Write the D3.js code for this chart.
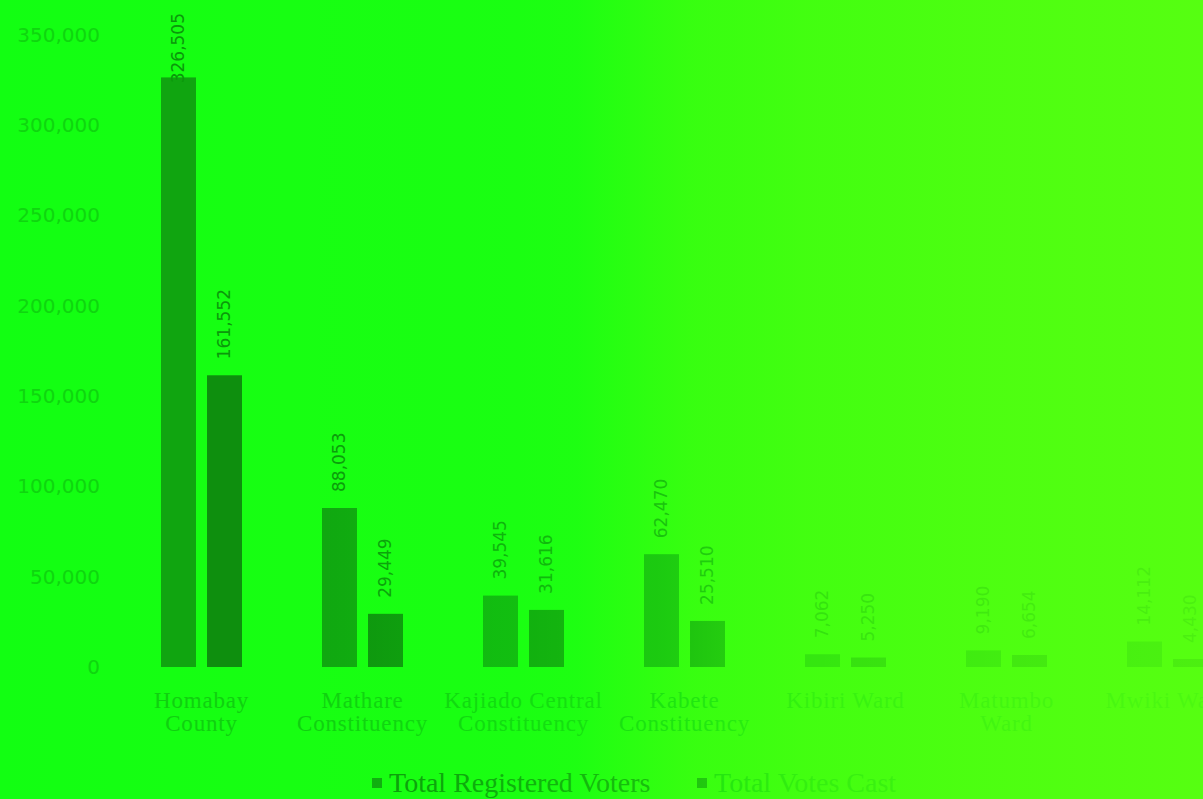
<!DOCTYPE html>
<html>
<head>
<meta charset="utf-8">
<script src="https://cdn.jsdelivr.net/npm/d3@7"></script>
<style>
  html, body { margin: 0; padding: 0; overflow: hidden; }
  svg { display: block; }
</style>
</head>
<body>
<svg id="chart"></svg>
<script>
var categories = ["Homabay County", "Mathare Constituency", "Kajiado Central Constituency",
                  "Kabete Constituency", "Kibiri Ward", "Matumbo Ward", "Mwiki Ward"];
var categoryLines = [["Homabay", "County"], ["Mathare", "Constituency"], ["Kajiado Central", "Constituency"],
                     ["Kabete", "Constituency"], ["Kibiri Ward"], ["Matumbo", "Ward"], ["Mwiki Ward"]];
var registered = [326505, 88053, 39545, 62470, 7062, 9190, 14112];
var cast = [161552, 29449, 31616, 25510, 5250, 6654, 4430];
var seriesNames = ["Total Registered Voters", "Total Votes Cast"];
var yTicks = [0, 50000, 100000, 150000, 200000, 250000, 300000, 350000];

(function () {
    var W = 1203, H = 799;
    var COLORS = ["#10a510", "#0e8f0e"];
    var fmt = d3.format(",");

    var svg = d3.select("#chart").attr("width", W).attr("height", H);
    var defs = svg.append("defs");

    // background tint, left to right
    var bg = defs.append("linearGradient").attr("id", "bg").attr("x1", 0).attr("x2", 1).attr("y1", 0).attr("y2", 0);
    [[0, "rgb(18,255,18)"], [0.48, "rgb(28,255,18)"], [0.58, "rgb(62,255,16)"], [1, "rgb(86,255,17)"]]
        .forEach(function (s) { bg.append("stop").attr("offset", s[0]).attr("stop-color", s[1]); });

    // wash that fades the right part of the picture
    var wash = defs.append("linearGradient").attr("id", "wash").attr("x1", 0).attr("x2", 1).attr("y1", 0).attr("y2", 0);
    [[0, "rgb(18,255,18)", 0], [0.25, "rgb(18,255,18)", 0], [0.42, "rgb(22,255,18)", 0.28],
     [0.55, "rgb(45,255,17)", 0.42], [0.67, "rgb(66,255,16)", 0.72], [0.83, "rgb(78,255,17)", 0.8],
     [1, "rgb(86,255,17)", 0.86]]
        .forEach(function (s) {
            wash.append("stop").attr("offset", s[0]).attr("stop-color", s[1]).attr("stop-opacity", s[2]);
        });

    svg.append("rect").attr("width", W).attr("height", H).attr("fill", "url(#bg)");

    var x0 = d3.scaleBand().domain(categories).range([121, 121 + 7 * 161])
        .paddingInner(0.497).paddingOuter(0.2485);
    var x1 = d3.scaleBand().domain([0, 1]).range([0, x0.bandwidth()]).paddingInner(0.24);
    var y = d3.scaleLinear().domain([0, 350000]).range([667, 35]);

    // y tick labels only
    var yAxis = d3.axisLeft(y).tickValues(yTicks).tickFormat(fmt).tickSize(0).tickPadding(0);
    var gy = svg.append("g").attr("transform", "translate(100,0)").call(yAxis);
    gy.select(".domain").remove();
    gy.selectAll("text")
        .attr("fill", "#0fd60f")
        .style("font-family", "DejaVu Sans")
        .style("font-size", "20px");

    var rows = categories.map(function (c, i) {
        return {cat: c, lines: categoryLines[i], vals: [registered[i], cast[i]]};
    });

    var groups = svg.append("g").selectAll("g").data(rows).enter().append("g")
        .attr("transform", function (d) { return "translate(" + x0(d.cat) + ",0)"; });

    groups.selectAll("rect").data(function (d) { return d.vals; }).enter().append("rect")
        .attr("x", function (d, i) { return x1(i); })
        .attr("y", function (d) { return y(d); })
        .attr("width", x1.bandwidth())
        .attr("height", function (d) { return y(0) - y(d); })
        .attr("fill", function (d, i) { return COLORS[i]; });

    // rotated value labels, pushed down when they reach the top
    groups.selectAll("text.val").data(function (d) { return d.vals; }).enter().append("text")
        .attr("class", "val")
        .attr("fill", "#0b980b")
        .style("font-family", "DejaVu Sans")
        .style("font-size", "17px")
        .attr("dy", "0.35em")
        .text(function (d) { return fmt(d); })
        .each(function (d, i) {
            var len = this.getComputedTextLength();
            var bottom = Math.max(y(d) - 16, 13 + len);
            var cx = x1(i) + x1.bandwidth() / 2;
            d3.select(this).attr("transform", "translate(" + cx + "," + bottom + ") rotate(-90)");
        });

    // category labels
    groups.append("text")
        .attr("text-anchor", "middle")
        .attr("fill", "#10d010")
        .style("font-family", "Liberation Serif")
        .style("font-size", "23px")
        .style("letter-spacing", "0.8px")
        .selectAll("tspan").data(function (d) { return d.lines; }).enter().append("tspan")
        .attr("x", x0.bandwidth() / 2)
        .attr("y", function (d, i) { return 708 + i * 23; })
        .text(function (d) { return d; });

    // legend
    var legend = svg.append("g").attr("transform", "translate(372,792)");
    var legX = [0, 325];
    seriesNames.forEach(function (name, i) {
        var g = legend.append("g").attr("transform", "translate(" + legX[i] + ",0)");
        g.append("rect").attr("x", 0).attr("y", -14).attr("width", 10).attr("height", 10).attr("fill", COLORS[i]);
        g.append("text").attr("x", 17).attr("y", 0)
            .attr("fill", i == 0 ? "#0b920b" : "#0fc80f")
            .style("font-family", "Liberation Serif")
            .style("font-size", "28px")
            .text(name);
    });

    svg.append("rect").attr("width", W).attr("height", H).attr("fill", "url(#wash)")
        .attr("pointer-events", "none");
}());
</script>
</body>
</html>
